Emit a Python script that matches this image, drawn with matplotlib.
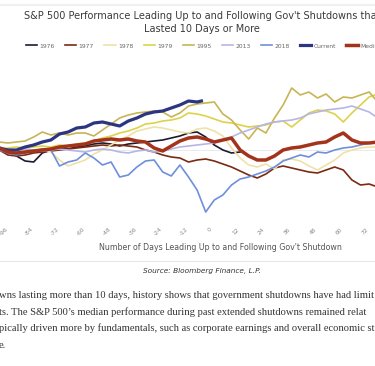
import numpy as np
import matplotlib.pyplot as plt

# trading days relative to the shutdown start
days = np.arange(-98, 79, 4)
days_1976 = days[days <= 14]
days_current = np.append(np.arange(-98, -5, 4), -4)

# % change
s1976 = [0.25, -0.5, -1.5, -2.75, -3, -0.75, 0, 0.5, 0.25, 0.75, 1, 1.5, 1.75, 1.5, 1,
         1.5, 1.75, 2, 2.25, 2.5, 3, 3.5, 4.25, 4.5, 3.25, 1.25, 0, -0.75, -0.5]
s1977 = [0, -1.25, -1.5, -1.25, -0.75, -0.5, -0.25, 0, 0.25, 0.5, 0.75, 1, 1.25, 1, 1.25,
         1, 0.75, 0, -0.5, -1.25, -1.75, -2, -3, -2.5, -2.25, -2.75, -3.5, -4.25, -5.25,
         -6.25, -7, -6, -4.5, -4, -4.5, -5, -5.5, -5.75, -5, -4.25, -5, -7.5, -8.75, -8.5, -9.25]
s1978 = [0, 0.25, 0, -0.25, 0, 0.25, -0.5, -2.5, -4, -3.25, -2.5, -1, 0, 1.25, 2.5,
         3.5, 4.75, 5.25, 5.75, 5.5, 5, 4.5, 4.25, 5.25, 5.5, 4.75, 3.5, 0.5, -2,
         -3.75, -4.25, -3.5, -4.75, -2.5, -2.25, -2.75, -4, -5, -3.75, -2.5, -0.75, 0, 0.5, 0.75, 0.75]
s1979 = [0, 0.5, 0.75, 0.5, 0.75, 1, 0.75, 1.25, 1, 1.5, 1.75, 2.25, 3, 3.5, 4.25,
         4.75, 5.5, 6.5, 6.75, 7.25, 7.5, 8, 9.25, 9, 8.5, 7.75, 7, 6.75, 6.25,
         5.75, 6, 6.25, 7, 7.25, 5.75, 7.5, 9.25, 10, 9.75, 9, 7, 9.25, 11.25, 13.25, 14]
s1995 = [2, 1.75, 2, 2.25, 3.25, 4.5, 3.75, 4.25, 3.75, 4.25, 4.25, 3.5, 5, 6.5, 8,
         8.75, 9.25, 9.5, 9.75, 9.5, 8.25, 9.25, 11, 11.5, 11.75, 12, 9, 7.5, 5,
         2.75, 5.5, 4.25, 8, 11.25, 15.5, 13.75, 14.5, 13, 14, 12, 13.25, 13, 13.75, 14.5, 12]
s2013 = [0, -0.25, 0, 0.25, 0, -0.25, 0, 0.25, 0, -0.25, -0.5, 0, 0.25, 0, -0.5,
         -0.75, -0.25, 0, -0.5, -0.25, 0.25, 0.75, 1, 1.25, 1.5, 1.75, 2.5, 3.25, 4.25,
         5, 5.75, 6.5, 7, 7.25, 7.5, 8, 9, 9.5, 10, 10.25, 10.5, 11, 10.25, 9.5, 8]
s2018 = [0, -0.75, -1.25, -0.75, -0.25, 0.25, 0, -4, -3, -2.5, -0.75, -2, -3.75, -3, -6.75,
         -6.25, -4.25, -2.75, -2.5, -5.5, -6.5, -3.75, -6.75, -10, -15.5, -12.5, -11.25, -8.75, -7.25,
         -6.75, -6, -5.25, -4.25, -2.75, -2, -1.25, -1.75, -0.5, -0.75, 0, 0.5, 0.75, 1.25, 1.75, 1.75]
current = [0.5, 0, 0, 0.75, 1.25, 2, 2.5, 4, 4.5, 5.5, 5.75, 6.75, 7, 6.5, 6, 7.25,
           8, 9, 9.5, 9.75, 10.5, 11.25, 12.25, 12, 12.25]
median = [0.5, -0.5, -0.75, -0.5, -0.25, 0, 0.25, 0.75, 1, 1.25, 1.5, 2.25, 2.5, 2.75, 2.5,
          2.75, 2.25, 2, 0.5, -0.25, 1, 2.25, 3, 3.25, 2.75, 2, 2.5, 3, 0,
          -1.5, -2.5, -2.5, -1.5, 0, 0.5, 0.75, 1.25, 1.75, 2, 3.25, 4.25, 2.5, 1.75, 1.75, 2]

tick_days = np.arange(-96, 73, 12)

series = [
    ("1976", days_1976, s1976, "#1b1b2f", 1.2),
    ("1977", days, s1977, "#7b2a12", 1.2),
    ("1978", days, s1978, "#efe2a8", 1.2),
    ("1979", days, s1979, "#ddd24a", 1.2),
    ("1995", days, s1995, "#c9b455", 1.2),
    ("2013", days, s2013, "#b6b6e6", 1.2),
    ("2018", days, s2018, "#6f8fdc", 1.2),
    ("Current", days_current, current, "#2b3580", 2.3),
    ("Median", days, median, "#a3331a", 2.5),
]

W, H = 375, 366
fig = plt.figure(figsize=(W / 100, H / 100), dpi=100)

# faint page rule at the very top
fig.add_artist(plt.Line2D([0, 1], [1 - 5 / H, 1 - 5 / H], color="#eef1f4", lw=1.6))

fig.text(202 / W, 1 - 16 / H, "S&P 500 Performance Leading Up to and Following Gov't Shutdowns that",
         ha="center", va="center", fontsize=7.0, color="#3a3a3a")
fig.text(202 / W, 1 - 29 / H, "Lasted 10 Days or More",
         ha="center", va="center", fontsize=7.0, color="#3a3a3a")

ax = fig.add_axes([0, 1 - 222 / H, 1, 162 / H])
ax.axhline(0, color="#e6e6e6", lw=0.6, zorder=0)
handles = []
for name, x, y, c, lw in series:
    z = 3 if lw > 2 else 2
    ln, = ax.plot(x, y, color=c, lw=lw, label=name, zorder=z, solid_joinstyle="round")
    handles.append(ln)

ax.set_xlim(-97.67, 76.74)
ax.set_ylim(-18, 22.5)
for s in ax.spines.values():
    s.set_visible(False)
ax.set_yticks([])
ax.set_xticks(tick_days)
ax.set_xticklabels([str(t) for t in tick_days], rotation=45, ha="center", va="top",
                   fontsize=4.2, color="#888888")
ax.tick_params(axis="x", length=0, pad=3.5)
ax.set_xlabel("Number of Days Leading Up to and Following Gov't Shutdown",
              fontsize=5.7, color="#555555")
ax.xaxis.label.set_va("center")
ax.xaxis.set_label_coords(220 / W, (H - 247 - (H - 222)) / 162)
ax.patch.set_alpha(0)

fig.legend(handles, [s[0] for s in series], loc="center left",
           bbox_to_anchor=(26 / W, 1 - 46 / H), ncol=9, frameon=False,
           fontsize=4.3, labelcolor="#666666", handlelength=1.9, handletextpad=0.35,
           columnspacing=1.75, borderpad=0, borderaxespad=0)

# separator + source line
fig.add_artist(plt.Line2D([0, 1], [1 - 261 / H, 1 - 261 / H], color="#e8e8e8", lw=0.8))
fig.text(202 / W, 1 - 271 / H, "Source: Bloomberg Finance, L.P.", ha="center", va="center",
         fontsize=5.3, style="italic", color="#333333")

para = [
    "wns lasting more than 10 days, history shows that government shutdowns have had limit",
    "ts. The S&P 500\u2019s median performance during past extended shutdowns remained relat",
    "pically driven more by fundamentals, such as corporate earnings and overall economic st",
    "e.",
]
for i, line in enumerate(para):
    fig.text(-1 / W, 1 - (295 + 16.7 * i) / H, line, ha="left", va="center",
             fontsize=7.6, family="Liberation Serif", color="#333333")

fig.savefig("out.png", dpi=100)
